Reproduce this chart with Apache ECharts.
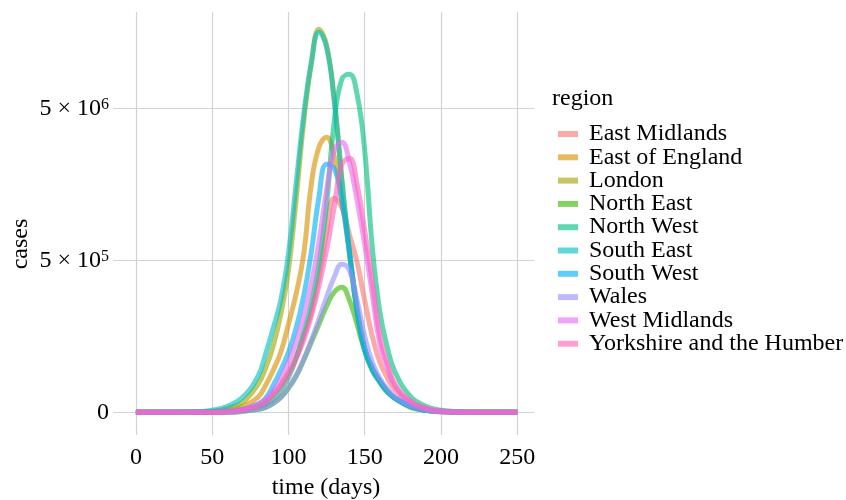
<!DOCTYPE html>
<html>
<head>
<meta charset="utf-8">
<script src="https://cdn.jsdelivr.net/npm/echarts@6/dist/echarts.min.js"></script>
<style>
html, body { margin: 0; padding: 0; background: #fff; }
#chart { width: 846px; height: 500px; }
</style>
</head>
<body>
<div id="chart"></div>
<script>
// time (days) at which the curves were read
var days = [0, 20, 40, 50, 60, 70, 80, 85, 90, 95, 100, 105, 110, 115, 120, 125, 130, 135, 140, 145, 150, 155, 160, 165, 170, 180, 190, 200, 220, 250];

var regions = ['East Midlands', 'East of England', 'London', 'North East', 'North West',
    'South East', 'South West', 'Wales', 'West Midlands', 'Yorkshire and the Humber'];

// cases per region
var eastMidlands = [0, 0, 0, 0, 454, 1836, 5670, 9730, 18480, 31000, 48980, 76060, 125300, 203300, 378600, 783600, 1321000, 1152600, 759400, 485600, 253700, 125300, 66350, 39520, 23380, 8694, 2774, 911, 0, 0];
var eastOfEngland = [0, 0, 0, 454, 1836, 5670, 15090, 29690, 52290, 86440, 160900, 282400, 552900, 1633000, 2833000, 3284000, 2479000, 1282000, 571000, 219100, 95340, 55660, 35340, 22170, 13990, 5670, 1836, 454, 0, 0];
var london = [0, 0, 182, 911, 3725, 9730, 31000, 55660, 99970, 195700, 425700, 1282000, 4096000, 9563000, 15920000, 12610000, 5822000, 1786000, 580100, 203300, 90830, 52290, 33980, 20970, 13990, 5670, 1836, 911, 0, 0];
var northEast = [0, 0, 0, 0, 0, 911, 2774, 4690, 8694, 15090, 25850, 42400, 70160, 109600, 160900, 227400, 292600, 319100, 253700, 160900, 90830, 55660, 35340, 22170, 13990, 4690, 1836, 454, 0, 0];
var northWest = [0, 0, 0, 0, 454, 1836, 4690, 7675, 12900, 23380, 40950, 74060, 133600, 235900, 469900, 1206000, 4096000, 7686000, 8269000, 6173000, 2710000, 618400, 203300, 95340, 48980, 16200, 5670, 1836, 0, 0];
var southEast = [0, 0, 454, 1836, 5670, 15090, 42400, 82200, 148300, 253700, 552900, 1633000, 4539000, 9850000, 15260000, 12250000, 5654000, 1733000, 571000, 203300, 90830, 52290, 33980, 20970, 13990, 5670, 1836, 911, 0, 0];
var southWest = [0, 0, 0, 0, 911, 2774, 7675, 13990, 29690, 52290, 86440, 148300, 272600, 571000, 1342000, 2201000, 2074000, 1282000, 571000, 219100, 95340, 55660, 35340, 22170, 13990, 5670, 1836, 454, 0, 0];
var wales = [0, 0, 0, 0, 0, 911, 2774, 4690, 8694, 15090, 27120, 43880, 72100, 114700, 177600, 267800, 378700, 469900, 425700, 253700, 125300, 66350, 39520, 24690, 15090, 5670, 1836, 454, 0, 0];
var westMidlands = [0, 0, 0, 0, 911, 2774, 7675, 12900, 22170, 38110, 66350, 109600, 188300, 336200, 669500, 1492000, 2710000, 3051000, 2268000, 1282000, 648600, 282400, 104700, 55660, 28390, 9730, 3725, 911, 0, 0];
var yorkshire = [0, 0, 0, 0, 454, 1836, 5670, 9730, 17340, 28390, 45370, 72100, 114700, 188300, 324700, 589500, 1152600, 2201000, 2406000, 1633000, 808400, 347900, 125300, 62710, 31000, 10770, 3725, 911, 0, 0];

var regionCases = [eastMidlands, eastOfEngland, london, northEast, northWest,
    southEast, southWest, wales, westMidlands, yorkshire];

var colors = ['rgba(248,118,109,0.62)', 'rgba(216,144,0,0.62)', 'rgba(163,165,0,0.62)',
    'rgba(57,182,0,0.62)', 'rgba(0,191,125,0.62)', 'rgba(0,191,196,0.62)',
    'rgba(0,176,246,0.62)', 'rgba(149,144,255,0.62)', 'rgba(231,107,243,0.62)',
    'rgba(255,98,188,0.62)'];

var xTicks = [0, 50, 100, 150, 200, 250];
var yTicks = [0, 500000, 5000000];
var yTickLabels = ['0', '5 × 10{s|5}', '5 × 10{s|6}'];

// y scale: log(cases + c), shifted so that 0 sits at 0
var C = 62500;
function tr(v) { return Math.log10(1 + v / C); }
var yTickPos = yTicks.map(tr);

var font = 'Liberation Serif';

var series = regions.map(function (name, k) {
    return {
        name: name,
        type: 'line',
        smooth: 0.45,
        showSymbol: false,
        symbol: 'none',
        color: colors[k],
        lineStyle: { width: 5, color: colors[k] },
        data: days.map(function (d, i) { return [d, tr(regionCases[k][i])]; })
    };
});

var chart = echarts.init(document.getElementById('chart'), null, { renderer: 'canvas' });
chart.setOption({
    animation: false,
    backgroundColor: '#fff',
    textStyle: { fontFamily: font },
    grid: { left: 113, right: 312, top: 12, bottom: 65, containLabel: false },
    xAxis: {
        type: 'value',
        min: -15,
        max: 261,
        axisLine: { show: false },
        axisTick: { show: false, customValues: xTicks },
        axisLabel: {
            customValues: xTicks,
            margin: 11,
            color: '#000',
            fontFamily: font,
            fontSize: 24
        },
        splitLine: { show: true, lineStyle: { color: '#d2d2d2', width: 1.2 } }
    },
    yAxis: {
        type: 'value',
        min: -0.1427,
        max: 2.5164,
        axisLine: { show: false },
        axisTick: { show: false, customValues: yTickPos },
        axisLabel: {
            customValues: yTickPos,
            margin: 4,
            color: '#000',
            fontFamily: font,
            fontSize: 24,
            formatter: function (v) {
                var best = 0;
                for (var i = 0; i < yTickPos.length; i++) {
                    if (Math.abs(yTickPos[i] - v) < Math.abs(yTickPos[best] - v)) best = i;
                }
                return yTickLabels[best];
            },
            rich: {
                s: { fontSize: 16, fontFamily: font, color: '#000', verticalAlign: 'top', lineHeight: 16 }
            }
        },
        splitLine: { show: true, lineStyle: { color: '#d2d2d2', width: 1.2 } }
    },
    legend: {
        orient: 'vertical',
        left: 553,
        top: 117,
        icon: 'rect',
        itemWidth: 20,
        itemHeight: 6,
        itemGap: -0.7,
        data: regions,
        textStyle: { fontFamily: font, fontSize: 24, color: '#000', padding: [0, 0, 0, 6] }
    },
    graphic: [
        { type: 'text', x: 552, y: 99, style: { text: 'region', font: '24px "Liberation Serif"', fill: '#000', verticalAlign: 'middle' } },
        { type: 'text', x: 21, y: 244, rotation: Math.PI / 2, style: { text: 'cases', font: '24px "Liberation Serif"', fill: '#000', align: 'center', verticalAlign: 'middle' } },
        { type: 'text', x: 326, y: 488, style: { text: 'time (days)', font: '24px "Liberation Serif"', fill: '#000', align: 'center', verticalAlign: 'middle' } }
    ],
    series: series
});
</script>
</body>
</html>
